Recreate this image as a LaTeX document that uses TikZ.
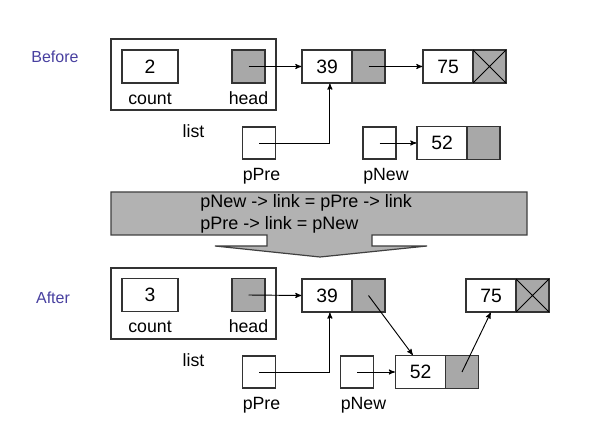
\documentclass[tikz,border=0pt]{standalone}
\usepackage{fontspec}
\setmainfont{Liberation Sans}
\usetikzlibrary{arrows,positioning}
\definecolor{stageblue}{RGB}{72,64,160}

\begin{document}
\begin{tikzpicture}[x=0.75pt,y=-0.75pt,
    cell/.style={draw=black!80,line width=1.1pt,minimum height=24.75pt,inner sep=0pt,outer sep=0pt},
    datacell/.style={cell,fill=white,minimum width=37.5pt,font=\fontsize{14.5}{17}\selectfont},
    linkcell/.style={cell,fill=black!34,minimum width=24.75pt},
    ptrcell/.style={cell,fill=white,minimum width=24.75pt,minimum height=24pt},
    countcell/.style={cell,fill=white,minimum width=42pt,font=\fontsize{14.5}{17}\selectfont},
    listbox/.style={draw=black!80,line width=1.1pt,fill=white,minimum width=123.75pt,minimum height=53.25pt,outer sep=0pt},
    fieldname/.style={font=\fontsize{13.3}{16}\selectfont,inner sep=0pt},
    varname/.style={font=\fontsize{13.3}{16}\selectfont,inner sep=0pt},
    stage/.style={text=stageblue,font=\fontsize{12}{14}\selectfont},
    link/.style={->,>=stealth',line width=0.7pt,shorten >=0.5pt}]

  \fill[white] (0,0) rectangle (596,427);
  \useasboundingbox (0,0) rectangle (596,427);

  % before
  \node[stage] (before) at (55,57) {Before};
  \node[listbox] (listA) at (193.5,74.5) {};
  \node[countcell] (countA) at (150,66.5) {2};
  \node[linkcell] (headA) at (248.5,66.5) {};
  \node[fieldname,below=7pt of countA] (countnameA) {count};
  \node[fieldname,below=6pt of headA] (headnameA) {head};
  \node[varname,below=11pt of listA] (listnameA) {list};

  \node[datacell] (d39A) at (327,66.5) {39};
  \node[linkcell,right=0pt of d39A] (l39A) {};
  \node[datacell,right=28.5pt of l39A] (d75A) {75};
  \node[linkcell,right=0pt of d75A] (l75A) {};
  \draw[line width=0.6pt] (l75A.north west) -- (l75A.south east)
                          (l75A.north east) -- (l75A.south west);

  \node[ptrcell] (pPreA) at (259,143) {};
  \node[varname,below=6.5pt of pPreA.south west,anchor=north west] (pPrenameA) {pPre};
  \node[ptrcell] (pNewA) at (379.5,143) {};
  \node[varname,below=6.5pt of pNewA.south west,anchor=north west] (pNewnameA) {pNew};
  \node[datacell,right=15.75pt of pNewA] (d52A) {52};
  \node[linkcell,right=0pt of d52A] (l52A) {};

  \draw[link] (headA.center) -- (d39A.west);
  \draw[link] (l39A.center) -- (d75A.west);
  \draw[link] (pPreA.center) -| (d39A.-80);
  \draw[link] (pNewA.center) -- (d52A.west);

  % the two statements
  \draw[fill=black!30,draw=black!75,line width=0.9pt]
    (111,192) -- (527,192) -- (527,235) -- (372,235) -- (372,246) -- (427,246)
    -- (320,257) -- (215,246) -- (267,246) -- (267,235) -- (111,235) -- cycle;
  \node[anchor=west,align=left,inner sep=0pt,font=\fontsize{13.5}{16.5}\selectfont]
    (code) at (200,214) {pNew -> link = pPre -> link\\pPre -> link = pNew};

  % after
  \node[stage] (after) at (53,298) {After};
  \node[listbox] (listB) at (193.5,303.5) {};
  \node[countcell] (countB) at (150,295) {3};
  \node[linkcell] (headB) at (248.5,295) {};
  \node[fieldname,below=7pt of countB] (countnameB) {count};
  \node[fieldname,below=6pt of headB] (headnameB) {head};
  \node[varname,below=11pt of listB] (listnameB) {list};

  \node[datacell] (d39B) at (327,295.5) {39};
  \node[linkcell,right=0pt of d39B] (l39B) {};
  \node[datacell,right=60.75pt of l39B] (d75B) {75};
  \node[linkcell,right=0pt of d75B] (l75B) {};
  \draw[line width=0.6pt] (l75B.north west) -- (l75B.south east)
                          (l75B.north east) -- (l75B.south west);

  \node[ptrcell] (pPreB) at (259,372) {};
  \node[varname,below=6.5pt of pPreB.south west,anchor=north west] (pPrenameB) {pPre};
  \node[ptrcell] (pNewB) at (357,372) {};
  \node[varname,below=6.5pt of pNewB.south west,anchor=north west] (pNewnameB) {pNew};
  \node[datacell,right=16.5pt of pNewB] (d52B) {52};
  \node[linkcell,right=0pt of d52B] (l52B) {};

  \draw[link] (headB.center) -- (d39B.west);
  \draw[link] (pPreB.center) -| (d39B.-80);
  \draw[link] (pNewB.center) -- (d52B.west);
  \draw[link] (l39B.center) -- (d52B.114);
  \draw[link] (l52B.center) -- (d75B.south);
\end{tikzpicture}
\end{document}
